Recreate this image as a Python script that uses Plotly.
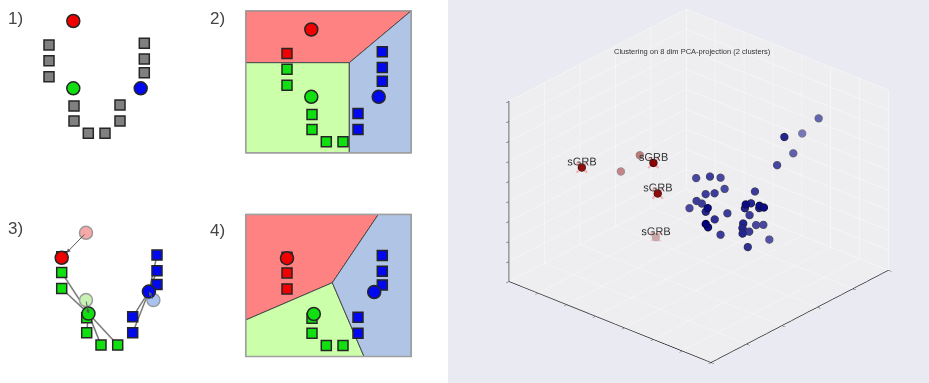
import numpy as np
import plotly.graph_objects as go

W, H = 929, 383

# ---------------- k-means walkthrough (panel units, y grows downward) ----------------
pt_x = [49, 49, 49, 144.3, 144.3, 144.3, 74, 74, 88.3, 105, 120, 120]
pt_y = [45, 60.7, 76.7, 43.3, 59, 72.7, 106, 121, 133.3, 133.3, 121, 105]
# cluster index per point: 0 red, 1 green, 2 blue
assign_step2 = [0, 1, 1, 2, 2, 2, 1, 1, 1, 1, 2, 2]
assign_step4 = [0, 0, 0, 2, 2, 2, 1, 1, 1, 1, 2, 2]

cent_init_x = [73.3, 73.3, 140.7]
cent_init_y = [21, 88.3, 88.3]
cent_new_x = [49, 75.8, 136.2]
cent_new_y = [46, 101.8, 79.8]

frame_x = [7.7, 173.3, 173.3, 7.7, 7.7]
frame_y = [2.2, 2.2, 144.3, 144.3, 2.2]

# Voronoi cells after the first assignment
cell2_red_x = [7.7, 173.3, 111.3, 7.7]
cell2_red_y = [2.2, 2.2, 54.2, 54.2]
cell2_green_x = [7.7, 111.3, 111.3, 7.7]
cell2_green_y = [54.2, 54.2, 144.3, 144.3]
cell2_blue_x = [111.3, 173.3, 173.3, 111.3]
cell2_blue_y = [54.2, 2.2, 144.3, 144.3]

# Voronoi cells after the centroid update
cell4_red_x = [7.7, 140.3, 94.3, 7.7]
cell4_red_y = [2.2, 2.2, 70.5, 107.8]
cell4_green_x = [7.7, 94.3, 126, 7.7]
cell4_green_y = [107.8, 70.5, 144.3, 144.3]
cell4_blue_x = [140.3, 173.3, 173.3, 126, 94.3]
cell4_blue_y = [2.2, 2.2, 144.3, 144.3, 70.5]

panel_labels = ["1)", "2)", "3)", "4)"]

# ---------------- PCA projection scatter (normalised component values) ----------------
red_x = [0.313, 0.104, 0.166, 0.541, 0.565, 0.200]
red_y = [0.054, 0.512, 0.548, 0.198, 0.195, 0.600]
red_z = [0.747, 0.396, 0.496, 0.801, 0.644, 0.029]
sgrb_idx = [0, 3, 4, 5]

blue_x = [0.672, 0.778, 0.595, 0.664, 0.700, 0.489, 0.559, 0.557, 0.585, 0.572,
          0.596, 0.708, 0.556, 0.574, 0.728, 0.662, 0.513, 0.661, 0.830, 0.778,
          0.768, 0.871, 0.886, 0.807, 0.726, 0.666, 0.777, 0.756, 0.784, 0.789,
          0.726, 0.746, 0.797, 0.748, 0.672, 0.751, 0.799]
blue_y = [0.980, 0.666, 0.975, 0.846, 0.714, 0.498, 0.496, 0.558, 0.549, 0.457,
          0.480, 0.580, 0.424, 0.433, 0.291, 0.355, 0.433, 0.478, 0.389, 0.478,
          0.455, 0.420, 0.428, 0.491, 0.529, 0.401, 0.224, 0.261, 0.427, 0.417,
          0.566, 0.584, 0.409, 0.502, 0.427, 0.612, 0.436]
blue_z = [0.707, 0.812, 0.591, 0.578, 0.596, 0.540, 0.581, 0.542, 0.497, 0.509,
          0.513, 0.522, 0.481, 0.470, 0.587, 0.504, 0.417, 0.432, 0.603, 0.540,
          0.520, 0.598, 0.591, 0.520, 0.425, 0.440, 0.555, 0.508, 0.457, 0.439,
          0.351, 0.352, 0.416, 0.357, 0.344, 0.258, 0.328]

# ---------------- styling ----------------
FONT = "Liberation Sans"
C_PT = ["#F00000", "#10E010", "#0008F0"]
C_CELL = ["#FF8282", "#CCFFAA", "#B0C4E6"]
C_FADED = ["#F7A8A8", "#C8F2B4", "#A8C2F4"]
EDGE = "#262626"

# panel pixel boxes and the offset of panel units inside them
panels = [
    dict(px=(0, 224), py=(0, 192), off=(0, 0)),
    dict(px=(224, 448), py=(0, 192), off=(238, 8.5)),
    dict(px=(0, 224), py=(192, 383), off=(12.7, 211.8)),
    dict(px=(224, 448), py=(192, 383), off=(238, 212.2)),
]
label_pos = [(16, 18.5), (217, 18.5), (15.5, 228.5), (217, 230)]

fig = go.Figure()
layout_axes = {}
for i, p in enumerate(panels, start=1):
    sfx = "" if i == 1 else str(i)
    (x0, x1), (y0, y1), (ox, oy) = p["px"], p["py"], p["off"]
    layout_axes["xaxis" + sfx] = dict(domain=[x0 / W, x1 / W], range=[x0 - ox, x1 - ox],
                                      visible=False, anchor="y" + sfx, fixedrange=True)
    layout_axes["yaxis" + sfx] = dict(domain=[1 - y1 / H, 1 - y0 / H], range=[y1 - oy, y0 - oy],
                                      visible=False, anchor="x" + sfx, fixedrange=True)


def ax(i):
    return dict(xaxis="x" if i == 1 else f"x{i}", yaxis="y" if i == 1 else f"y{i}")


def add_points(i, colors):
    for k in range(3):
        idx = [j for j, c in enumerate(colors) if c == k]
        fig.add_trace(go.Scatter(
            x=[pt_x[j] for j in idx], y=[pt_y[j] for j in idx], mode="markers",
            marker=dict(symbol="square", size=10, color=C_PT[k], line=dict(color=EDGE, width=1.5)),
            hoverinfo="skip", showlegend=False, **ax(i)))


def add_centroids(i, cx, cy, fills, edge=EDGE):
    fig.add_trace(go.Scatter(
        x=cx, y=cy, mode="markers",
        marker=dict(symbol="circle", size=13, color=fills, line=dict(color=edge, width=1.5)),
        hoverinfo="skip", showlegend=False, **ax(i)))


def add_cells(i, cells):
    for k, (cx, cy) in enumerate(cells):
        fig.add_trace(go.Scatter(
            x=cx + [cx[0]], y=cy + [cy[0]], mode="lines", fill="toself",
            fillcolor=C_CELL[k], line=dict(color="#4a4a4a", width=1),
            hoverinfo="skip", showlegend=False, **ax(i)))
    fig.add_trace(go.Scatter(
        x=frame_x, y=frame_y, mode="lines", line=dict(color="#a0a0a0", width=1.5),
        hoverinfo="skip", showlegend=False, **ax(i)))


# panel 1: unlabelled points and initial centroids
fig.add_trace(go.Scatter(
    x=pt_x, y=pt_y, mode="markers",
    marker=dict(symbol="square", size=10, color="#808080", line=dict(color=EDGE, width=1.5)),
    hoverinfo="skip", showlegend=False, **ax(1)))
add_centroids(1, cent_init_x, cent_init_y, C_PT)

# panel 2: assignment to the nearest centroid
add_cells(2, [(cell2_red_x, cell2_red_y), (cell2_green_x, cell2_green_y), (cell2_blue_x, cell2_blue_y)])
add_points(2, assign_step2)
add_centroids(2, cent_init_x, cent_init_y, C_PT)

# panel 3: centroids move to the mean of their members
lx, ly = [], []
for j, k in enumerate(assign_step2):
    lx += [pt_x[j], cent_new_x[k], None]
    ly += [pt_y[j], cent_new_y[k], None]
fig.add_trace(go.Scatter(x=lx, y=ly, mode="lines", line=dict(color="#7a7a7a", width=1.5),
                         hoverinfo="skip", showlegend=False, **ax(3)))
add_centroids(3, cent_init_x, cent_init_y, C_FADED, edge="#9a9a9a")
add_points(3, assign_step2)
add_centroids(3, cent_new_x, cent_new_y, C_PT)

# panel 4: reassignment with the updated centroids
add_cells(4, [(cell4_red_x, cell4_red_y), (cell4_green_x, cell4_green_y), (cell4_blue_x, cell4_blue_y)])
add_points(4, assign_step4)
add_centroids(4, cent_new_x, cent_new_y, C_PT)

annotations = []
for k in range(3):
    annotations.append(dict(
        x=cent_new_x[k], y=cent_new_y[k], ax=cent_init_x[k], ay=cent_init_y[k],
        xref="x3", yref="y3", axref="x3", ayref="y3", showarrow=True, text="",
        arrowhead=2, arrowsize=0.8, arrowwidth=1, arrowcolor="#5a5a5a",
        standoff=7 if k == 0 else 0, startstandoff=0))
for t, (lx_, ly_) in zip(panel_labels, label_pos):
    annotations.append(dict(x=lx_ / W, y=1 - ly_ / H, xref="paper", yref="paper", text=t,
                            showarrow=False, font=dict(family=FONT, size=17, color="#444"),
                            xanchor="center", yanchor="middle"))

# ---------------- 3-D scatter ----------------
ASPECT = np.array([1.404, 1.404, 1.057])
EYE = np.array([0.711, -0.890, 0.551])
CENTER = np.array([-0.032, -0.044, -0.027])
PANE = np.array([238, 238, 241])

view = (EYE - CENTER) / np.linalg.norm(EYE - CENTER)
red_pts = np.column_stack([red_x, red_y, red_z])
blue_pts = np.column_stack([blue_x, blue_y, blue_z])
near = np.concatenate([red_pts @ view, blue_pts @ view])
alpha = 0.3 + 0.7 * (near - near.min()) / (near.max() - near.min())
a_red, a_blue = alpha[:len(red_x)], alpha[len(red_x):]


def shade(base, a):
    out = []
    for v in a:
        c = v * np.array(base) + (1 - v) * PANE
        out.append("rgb(%d,%d,%d)" % tuple(np.round(c)))
    return out


sg = red_pts[sgrb_idx]
# the star marks sit a hair behind their points along the line of sight,
# so each dot is painted over its star
star_pts = sg - 0.03 * view / ASPECT
LABEL_LIFT = 0.033   # places each label just above its point

fig.add_trace(go.Scatter3d(
    x=star_pts[:, 0], y=star_pts[:, 1], z=star_pts[:, 2], mode="markers",
    marker=dict(symbol="x", size=2.6, color="#F3B3B5", line=dict(width=0)),
    hoverinfo="skip", showlegend=False, scene="scene"))
fig.add_trace(go.Scatter3d(
    x=red_x, y=red_y, z=red_z, mode="markers",
    marker=dict(size=4.5, color=shade([139, 0, 0], a_red), line=dict(color=shade([0, 0, 0], a_red), width=1)),
    hoverinfo="skip", showlegend=False, scene="scene"))
fig.add_trace(go.Scatter3d(
    x=blue_x, y=blue_y, z=blue_z, mode="markers",
    marker=dict(size=4.5, color=shade([0, 0, 128], a_blue), line=dict(color=shade([0, 0, 0], a_blue), width=1)),
    hoverinfo="skip", showlegend=False, scene="scene"))
fig.add_trace(go.Scatter3d(
    x=sg[:, 0], y=sg[:, 1], z=sg[:, 2] + LABEL_LIFT, mode="text", text=["sGRB"] * len(sgrb_idx),
    textposition="middle center", textfont=dict(size=11, color="#333", family=FONT),
    hoverinfo="skip", showlegend=False, scene="scene"))


def axis3d(n):
    return dict(range=[0, 1], tickvals=list(np.linspace(0, 1, n)), showticklabels=False,
                title=dict(text=""), showbackground=True, backgroundcolor="#EEEEF1",
                gridcolor="#F7F7F8", gridwidth=1.5, showline=True, linecolor="#222",
                linewidth=1.5, ticks="outside", ticklen=4, tickcolor="#222",
                zeroline=False, showspikes=False)


annotations.append(dict(x=692 / W, y=1 - 51 / H, xref="paper", yref="paper",
                        text="Clustering on 8 dim PCA-projection (2 clusters)", showarrow=False,
                        font=dict(family=FONT, size=7.5, color="#333"),
                        xanchor="center", yanchor="middle"))

fig.update_layout(
    width=W, height=H, margin=dict(l=0, r=0, t=0, b=0),
    paper_bgcolor="white", plot_bgcolor="rgba(0,0,0,0)",
    showlegend=False, annotations=annotations,
    scene=dict(
        domain=dict(x=[448 / W, 1], y=[0, 1]), bgcolor="#EAEAF2",
        xaxis=axis3d(8), yaxis=axis3d(6), zaxis=axis3d(10),
        aspectmode="manual", aspectratio=dict(x=ASPECT[0], y=ASPECT[1], z=ASPECT[2]),
        camera=dict(eye=dict(x=EYE[0], y=EYE[1], z=EYE[2]), up=dict(x=0, y=0, z=1),
                    center=dict(x=CENTER[0], y=CENTER[1], z=CENTER[2]),
                    projection=dict(type="orthographic")),
    ),
    **layout_axes,
)

fig.write_html("out.html")
